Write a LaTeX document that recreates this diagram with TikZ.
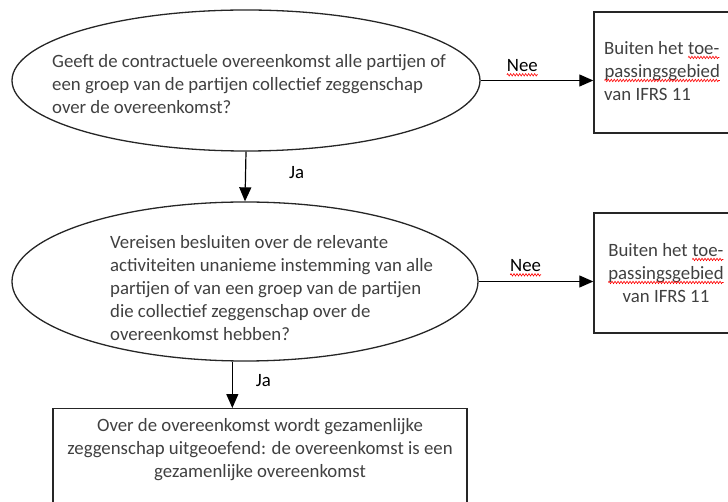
\documentclass[tikz,border=0pt]{standalone}
\usepackage{fontspec}
\setmainfont{Carlito}
\usepackage{xcolor}
\usepackage{tikz}
\usetikzlibrary{shapes.geometric, arrows.meta, positioning, decorations.pathmorphing}

\newcommand\spellwave[1]{\tikz[baseline=(sw.base)]{%
    \node[inner sep=0pt, outer sep=0pt] (sw) {#1};
    \draw[red, -, line width=0.6pt, decorate,
      decoration={zigzag, amplitude=1.2pt, segment length=3pt}]
      ([yshift=-3pt]sw.base west) -- ([yshift=-3pt]sw.base east);}}

\begin{document}
\begin{tikzpicture}[x=1pt, y=-1pt,
    question/.style={draw=black!85, line width=1.3pt, ellipse},
    outbox/.style={draw=black!85, line width=1.4pt, rectangle},
    txt/.style={text=black!75, font=\fontsize{18.8}{23}\selectfont, inner sep=0pt},
    lbl/.style={text=black, font=\fontsize{18.8}{22}\selectfont, inner sep=0pt},
    arr/.style={line width=1.2pt, -{Triangle[length=14pt, width=12pt]}}]
    \path[use as bounding box, clip] (0,0) rectangle (728,502);

    \node[question, minimum width=468, minimum height=141] (q1) at (246,80.5) {};
    \node[txt, align=left, anchor=west] (q1text) at (52,84)
      {Geeft de contractuele overeenkomst alle partijen of\\
       een groep van de partijen collectief zeggenschap\\
       over de overeenkomst?};

    \node[question, minimum width=466, minimum height=159] (q2) at (245,281.5) {};
    \node[txt, align=left, anchor=west] (q2text) at (110,288)
      {Vereisen besluiten over de relevante\\
       activiteiten unanieme instemming van alle\\
       partijen of van een groep van de partijen\\
       die collectief zeggenschap over de\\
       overeenkomst hebben?};

    \node[outbox, minimum width=144, minimum height=121] (out1) at (666,72.5) {};
    \node[txt, align=left, anchor=west] (out1text) at (604,71)
      {Buiten het \spellwave{toe-}\\
       \spellwave{passingsgebied}\\
       van IFRS 11};

    \node[outbox, minimum width=144, minimum height=120] (out2) at (666,273) {};
    \node[txt, align=center] (out2text) at (666,273)
      {Buiten het \spellwave{toe-}\\
       \spellwave{passingsgebied}\\
       van IFRS 11};

    \node[outbox, minimum width=414, minimum height=124, anchor=north] (joint) at (260,408) {};
    \node[txt, align=center, below=10pt of joint.north] (jointtext)
      {Over de overeenkomst wordt gezamenlijke\\
       zeggenschap uitgeoefend: de overeenkomst is een\\
       gezamenlijke overeenkomst};

    % connectors
    \draw[arr] (q1.east) -- (q1.east -| out1.west)
      node[lbl, pos=0.37, above=4pt] (nee1) {\spellwave{Nee}};
    \draw[arr] (q2.east) -- (q2.east -| out2.west)
      node[lbl, pos=0.41, above=5pt] (nee2) {\spellwave{Nee}};
    \draw[arr] (q1.south) -- (q2.north)
      node[lbl, pos=0.42, right=43pt] (ja1) {Ja};
    \draw[arr] (q2.-99) -- (q2.-99 |- joint.north)
      node[lbl, pos=0.4, right=23pt] (ja2) {Ja};
\end{tikzpicture}
\end{document}
